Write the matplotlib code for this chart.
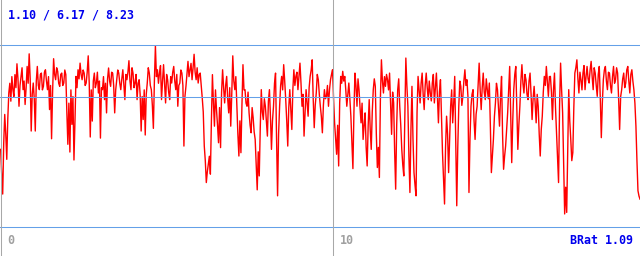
import numpy as np
import matplotlib
matplotlib.use("Agg")
import matplotlib.pyplot as plt

# signal values (about one sample per pixel column)
values = [
    3.51, 2.40, 1.49, 3.80, 5.09, 4.20, 3.06, 4.90, 6.06, 6.50, 5.69, 6.80, 6.21, 5.90, 6.89, 6.30, 7.38, 6.70, 5.46, 6.40,
    6.81, 7.20, 6.21, 6.60, 5.54, 6.30, 7.26, 6.50, 7.83, 6.70, 4.34, 6.00, 6.51, 5.80, 4.34, 6.60, 7.26, 6.40, 6.21, 6.90,
    6.96, 6.20, 6.36, 7.00, 7.11, 6.60, 6.21, 6.80, 5.31, 6.40, 3.99, 6.10, 7.61, 6.90, 6.66, 7.20, 7.04, 6.50, 6.36, 6.90,
    6.96, 6.40, 6.51, 7.10, 6.89, 5.20, 3.74, 5.60, 3.39, 6.20, 4.64, 5.90, 3.03, 4.80, 6.81, 6.30, 7.11, 6.70, 7.41, 6.90,
    6.66, 7.10, 6.96, 6.40, 6.51, 7.00, 7.74, 6.50, 4.07, 6.20, 4.79, 6.60, 6.96, 6.30, 6.51, 7.00, 6.06, 6.60, 4.02, 6.30,
    6.21, 6.80, 5.76, 6.50, 5.16, 6.70, 7.19, 6.60, 6.36, 7.00, 6.96, 6.40, 5.16, 6.20, 6.66, 7.10, 6.96, 6.50, 6.21, 6.70,
    7.11, 6.40, 5.76, 6.90, 6.66, 7.00, 7.52, 6.60, 6.21, 7.20, 6.96, 6.30, 6.51, 6.90, 5.76, 6.50, 6.66, 6.00, 4.34, 5.90,
    4.86, 6.20, 4.16, 6.00, 6.51, 7.20, 6.96, 6.40, 6.21, 5.50, 4.46, 6.60, 8.19, 6.80, 7.11, 6.50, 6.96, 7.30, 5.76, 6.60,
    7.34, 6.50, 5.61, 6.90, 6.66, 6.10, 5.76, 6.80, 6.51, 7.00, 7.26, 6.60, 6.21, 6.90, 5.46, 6.40, 6.51, 7.10, 6.96, 6.40,
    3.66, 5.90, 6.36, 6.90, 7.49, 6.80, 7.11, 7.40, 6.66, 7.20, 7.81, 7.00, 6.66, 7.20, 6.51, 6.90, 6.96, 6.40, 5.84, 5.20,
    3.66, 3.00, 2.01, 2.50, 2.84, 3.20, 2.39, 4.80, 6.89, 5.60, 4.56, 6.20, 5.31, 4.60, 3.81, 5.40, 3.59, 6.10, 7.11, 6.30,
    5.61, 6.40, 6.81, 5.80, 5.16, 6.30, 4.56, 6.00, 7.74, 6.60, 6.21, 6.80, 5.46, 4.20, 3.21, 4.80, 3.36, 5.50, 7.34, 6.20,
    6.21, 5.60, 5.46, 6.10, 5.16, 4.60, 4.26, 5.40, 4.94, 4.30, 3.96, 2.80, 1.68, 3.40, 2.31, 4.50, 6.21, 5.20, 4.86, 5.80,
    5.46, 4.80, 4.11, 5.70, 6.21, 5.00, 3.51, 4.80, 5.46, 6.50, 6.96, 4.00, 1.41, 4.20, 5.46, 6.40, 6.81, 6.20, 7.34, 6.60,
    5.76, 4.80, 3.66, 5.40, 6.21, 5.30, 4.41, 6.20, 7.11, 6.40, 6.81, 7.00, 6.21, 6.80, 7.41, 6.50, 5.46, 6.00, 4.11, 5.20,
    6.21, 5.60, 5.01, 6.30, 6.81, 7.10, 7.56, 5.80, 4.49, 5.50, 6.06, 6.90, 6.66, 6.00, 5.46, 5.00, 4.26, 5.50, 6.21, 5.80,
    5.91, 6.40, 5.46, 6.20, 6.66, 6.90, 7.11, 5.80, 4.71, 4.00, 3.29, 4.60, 2.76, 5.60, 6.81, 6.50, 7.04, 6.60, 6.81, 6.20,
    5.46, 6.00, 6.51, 5.80, 5.01, 3.80, 2.64, 5.20, 6.96, 6.40, 5.46, 6.70, 6.21, 5.40, 4.71, 5.60, 3.96, 4.60, 5.16, 3.60,
    2.76, 4.60, 5.76, 4.40, 3.51, 5.20, 6.21, 6.70, 6.36, 4.20, 2.69, 3.60, 2.24, 5.80, 7.56, 6.60, 6.06, 6.80, 6.36, 6.90,
    6.66, 6.20, 6.96, 5.60, 4.19, 6.10, 5.61, 3.40, 1.71, 4.60, 6.21, 6.70, 5.46, 4.60, 3.51, 2.80, 2.31, 5.00, 7.64, 6.40,
    5.46, 3.20, 1.56, 4.40, 6.36, 4.00, 2.46, 1.90, 1.41, 5.20, 6.81, 6.20, 5.61, 6.50, 6.96, 6.00, 5.31, 6.40, 6.96, 6.30,
    5.76, 6.60, 6.06, 5.70, 6.51, 6.90, 5.61, 6.30, 6.96, 5.90, 4.71, 6.10, 6.66, 5.00, 3.36, 2.20, 1.04, 3.60, 5.01, 4.20,
    2.46, 4.00, 5.46, 6.20, 4.71, 5.60, 6.81, 3.80, 0.96, 3.60, 5.46, 6.60, 6.36, 5.50, 5.91, 6.60, 7.11, 6.40, 6.66, 5.90,
    1.56, 4.00, 5.46, 6.00, 6.21, 4.80, 3.96, 5.10, 5.46, 6.40, 7.41, 6.20, 5.31, 6.30, 6.96, 6.10, 5.76, 6.70, 6.21, 5.80,
    6.51, 4.60, 2.46, 3.20, 3.96, 5.00, 5.61, 6.50, 6.21, 5.40, 4.56, 5.90, 6.81, 4.20, 2.61, 3.20, 3.66, 4.40, 5.16, 6.20,
    7.26, 5.00, 2.91, 4.80, 6.21, 6.90, 7.26, 5.40, 3.51, 4.60, 5.46, 6.60, 7.34, 6.50, 6.06, 6.90, 6.66, 6.00, 5.76, 6.60,
    6.96, 6.00, 4.86, 5.80, 6.36, 5.60, 4.71, 6.00, 5.46, 4.20, 3.21, 4.40, 5.01, 6.10, 6.81, 6.40, 7.26, 6.60, 5.91, 6.80,
    6.81, 6.10, 4.86, 6.20, 6.96, 5.40, 4.26, 3.00, 2.01, 5.50, 7.41, 6.20, 5.16, 2.80, 0.59, 1.80, 0.66, 3.40, 6.21, 4.80,
    3.96, 3.00, 3.36, 5.40, 6.96, 7.20, 7.56, 6.70, 6.06, 7.00, 6.66, 6.20, 6.96, 7.30, 6.21, 6.80, 7.26, 6.70, 6.51, 7.10,
    7.49, 6.80, 6.21, 7.20, 6.96, 6.40, 5.91, 6.90, 7.26, 5.80, 4.04, 5.60, 6.66, 7.10, 7.26, 6.60, 6.21, 7.00, 6.96, 6.40,
    6.06, 6.80, 7.26, 6.50, 6.66, 7.20, 6.96, 5.80, 4.41, 5.90, 6.21, 6.70, 6.96, 6.30, 6.51, 7.10, 7.26, 6.60, 6.06, 6.90,
    7.11, 6.60, 6.21, 5.60, 4.56, 3.00, 1.64, 1.40, 1.26,
]
t_end = 19.22
ref_levels = [8.23, 5.88, 0.0]
x_ticks = [0, 10]
header = "1.10 / 6.17 / 8.23"
footer = "BRat 1.09"

W, H = 640, 256
fig = plt.figure(figsize=(W / 100, H / 100), dpi=100)
ax = fig.add_axes([0, 0, 1, 1])
ax.set_axis_off()

# y: 8.23 -> 45 px from top, 0 -> 227 px from top
ppu = 182 / 8.23
ax.set_ylim(-(H - 227) / ppu, 8.23 + 45 / ppu)
ax.set_xlim(-0.02, t_end)

t = np.linspace(0, t_end, len(values))
ax.plot(t, values, color="#ff0000", lw=1.0, zorder=2)

for lv in ref_levels:
    ax.axhline(lv, color="#64a0e8", lw=0.75, zorder=3)
for xt in x_ticks:
    ax.axvline(xt, color="#a8a8a8", lw=0.75, zorder=3)
    ax.text(xt + 0.2, -0.62, str(xt), color="#a0a0a0", fontsize=8.4,
            family="DejaVu Sans Mono", fontweight="bold",
            ha="left", va="center", zorder=4)

fig.text(8 / W, 1 - 15 / H, header, color="#0000ee", fontsize=8.4,
         family="DejaVu Sans Mono", fontweight="bold", ha="left", va="center")
fig.text(633 / W, 1 - 241 / H, footer, color="#0000ee", fontsize=8.4,
         family="DejaVu Sans Mono", fontweight="bold", ha="right", va="center")

fig.savefig("out.png", dpi=100, facecolor="white")
